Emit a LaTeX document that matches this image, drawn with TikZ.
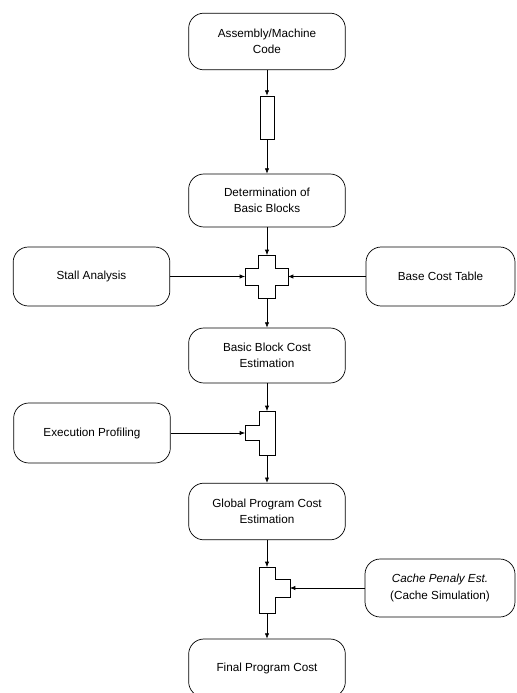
\documentclass[tikz,border=0pt]{standalone}
\usepackage{fontspec}
\setmainfont{Liberation Sans}
\usetikzlibrary{arrows.meta}

\tikzstyle{stage}=[draw, rounded corners=13pt, align=center, inner sep=0pt,
  line width=0.6pt, font=\fontsize{10}{14}\selectfont,
  minimum width=4.7cm, minimum height=1.7cm]
\tikzstyle{source}=[stage, minimum height=1.77cm]
\tikzstyle{buffer}=[draw, line width=0.6pt, minimum width=0.42cm, minimum height=1.29cm]
\tikzstyle{junction}=[draw, line width=0.6pt, fill=white]
\tikzstyle{flow}=[-{Latex[length=4.5pt,width=3.6pt]}, line width=0.5pt]

\begin{document}
\begin{tikzpicture}[x=0.03cm, y=-0.03cm]
    \useasboundingbox (0,0) rectangle (517,693);

    % main chain
    \path (267,41.5) node[stage] (code) {Assembly/Machine\\Code};
    \path (267,117.5) node[buffer] (buf) {};
    \path (267,200.5) node[stage, minimum height=1.59cm] (det) {Determination of\\Basic Blocks};
    \path (267,355.5) node[stage, minimum height=1.65cm] (bbc) {Basic Block Cost\\Estimation};
    \path (267,511.5) node[stage] (gpc) {Global Program Cost\\Estimation};
    \path (267,668) node[stage, minimum height=1.74cm] (final) {Final Program Cost};

    % side inputs
    \path (91.5,276.5) node[source] (stall) {Stall Analysis};
    \path (440.5,276.5) node[source, minimum width=4.47cm] (base) {Base Cost Table};
    \path (92,433) node[source, minimum height=1.8cm] (prof) {Execution Profiling};
    \path (440,588) node[source, minimum width=4.5cm, minimum height=1.74cm] (cache)
      {\textit{Cache Penaly Est.}\\(Cache Simulation)};

    % junctions
    \draw[junction] (258.5,255) -- (275.5,255) -- (275.5,268) -- (288,268) -- (288,285)
      -- (275.5,285) -- (275.5,298) -- (258.5,298) -- (258.5,285) -- (245,285)
      -- (245,268) -- (258.5,268) -- cycle;
    \coordinate (j1n) at (267,255);
    \coordinate (j1s) at (267,298);
    \coordinate (j1w) at (245,276.5);
    \coordinate (j1e) at (288,276.5);

    \draw[junction] (259,411) -- (275,411) -- (275,455) -- (259,455) -- (259,440)
      -- (245,440) -- (245,425) -- (259,425) -- cycle;
    \coordinate (j2n) at (267,411);
    \coordinate (j2s) at (267,455);
    \coordinate (j2w) at (245,433);

    \draw[junction] (259,567) -- (275,567) -- (275,579) -- (290,579) -- (290,597)
      -- (275,597) -- (275,613) -- (259,613) -- cycle;
    \coordinate (j3n) at (267,567);
    \coordinate (j3s) at (267,613);
    \coordinate (j3e) at (290,588);

    \draw[flow] (code) -- (buf);
    \draw[flow] (buf) -- (det);
    \draw[flow] (det) -- (j1n);
    \draw[flow] (stall) -- (j1w);
    \draw[flow] (base) -- (j1e);
    \draw[flow] (j1s) -- (bbc);
    \draw[flow] (bbc) -- (j2n);
    \draw[flow] (prof) -- (j2w);
    \draw[flow] (j2s) -- (gpc);
    \draw[flow] (gpc) -- (j3n);
    \draw[flow] (cache) -- (j3e);
    \draw[flow] (j3s) -- (final);
  \end{tikzpicture}
\end{document}
